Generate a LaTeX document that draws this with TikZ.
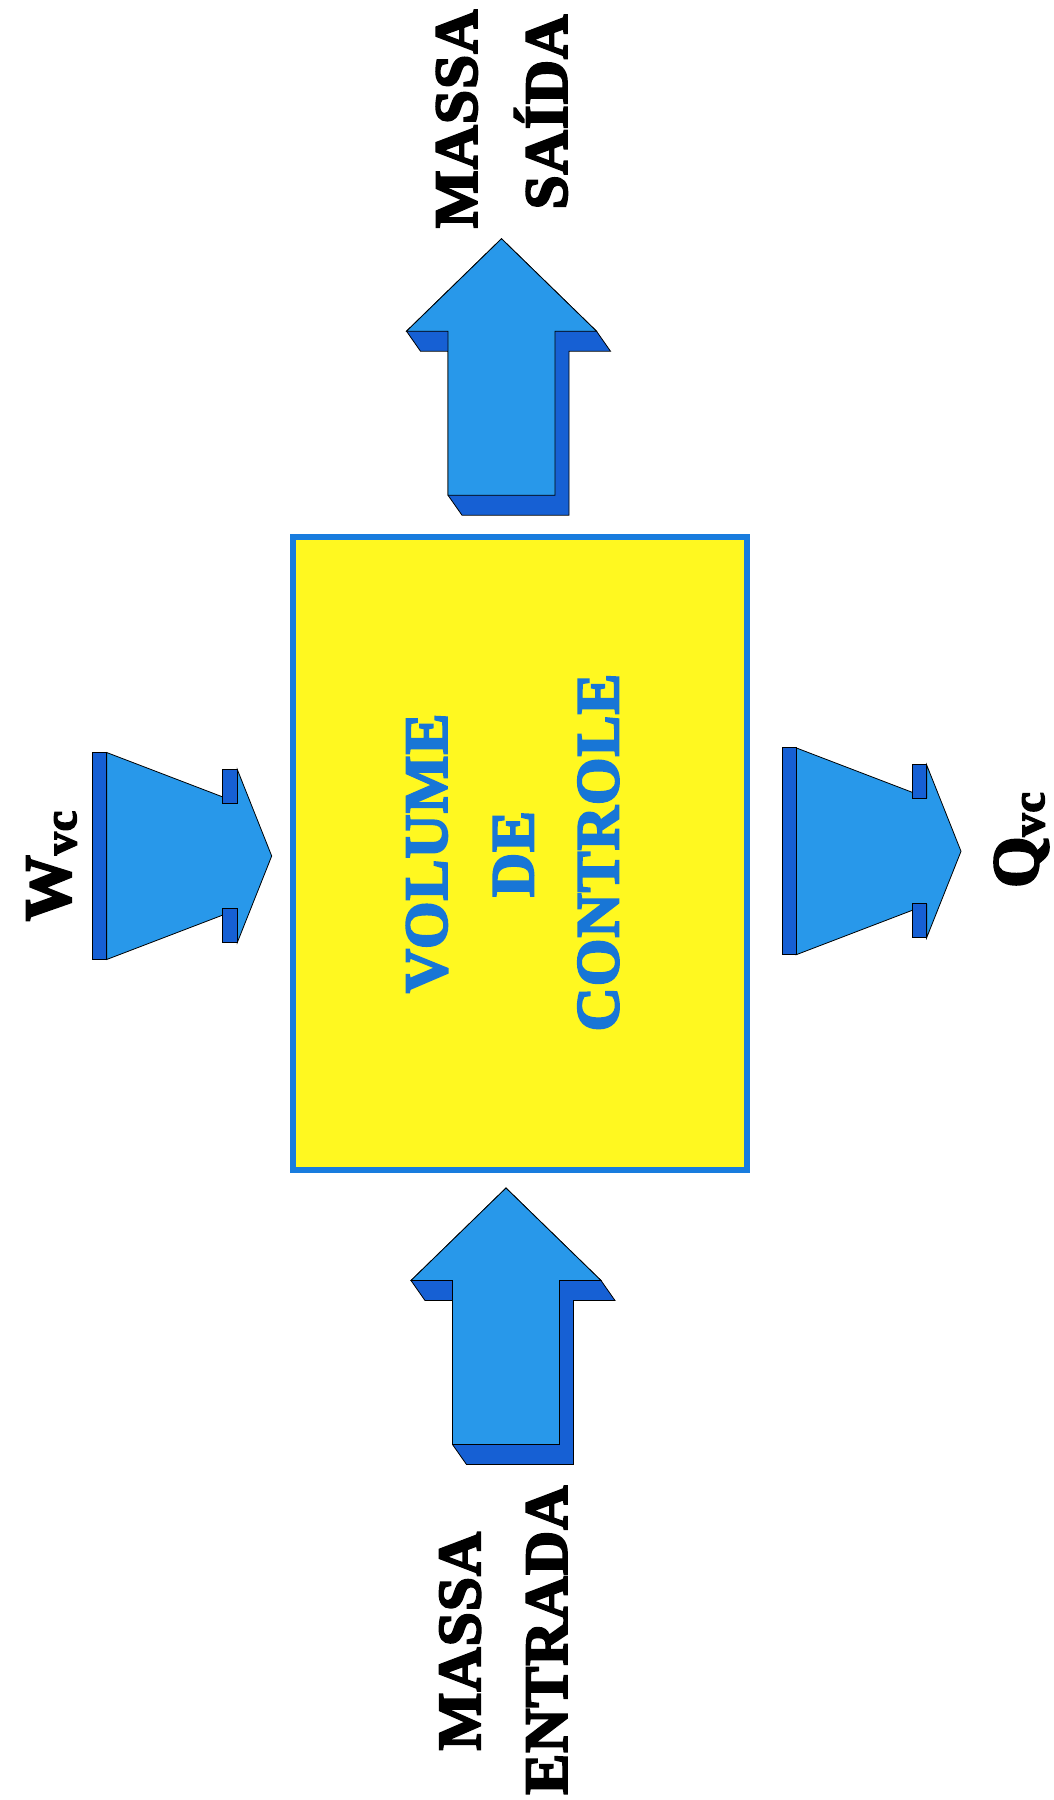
\documentclass[tikz,border=0pt]{standalone}
\usepackage{fontspec}
\setmainfont{Liberation Serif}[BoldFeatures={FakeBold=3.5,LetterSpace=2}]
\definecolor{arrowlight}{RGB}{40,152,234}
\definecolor{arrowdark}{RGB}{22,96,212}
\definecolor{boxyellow}{RGB}{255,248,32}
\definecolor{boxblue}{RGB}{24,124,222}
\definecolor{textblue}{RGB}{24,118,214}
\tikzset{
  front/.style={fill=arrowlight, draw=black, line width=0.8pt, line join=miter},
  side/.style={fill=arrowdark, draw=black, line width=0.8pt, line join=miter},
  lbl/.style={rotate=90, anchor=base, inner sep=0pt, font=\bfseries\fontsize{61}{61}\selectfont, text=black},
  boxlbl/.style={lbl, text=textblue},
  sublbl/.style={rotate=90, anchor=base, inner sep=0pt, font=\bfseries\fontsize{66}{66}\selectfont, text=black},
}
\newcommand\UpBlockArrow[2]{%
  \draw[side] (#1,#2) -- ({#1-95},{#2+92.5}) -- ({#1-81},{#2+112.5}) -- ({#1-53.5},{#2+112.5}) -- ({#1-53.5},{#2+256.5}) -- ({#1-39.5},{#2+276.5}) -- ({#1+67.5},{#2+276.5}) -- ({#1+67.5},{#2+112.5}) -- ({#1+109},{#2+112.5}) -- ({#1+95},{#2+92.5}) -- cycle;
  \draw[front] (#1,#2) -- ({#1-95},{#2+92.5}) -- ({#1-53.5},{#2+92.5}) -- ({#1-53.5},{#2+256.5}) -- ({#1+53.5},{#2+256.5}) -- ({#1+53.5},{#2+92.5}) -- ({#1+95},{#2+92.5}) -- cycle;
}
\newcommand\SideBlockArrow[2]{%
  \draw[front] (#1,{#2-103.5}) -- ({#1+130.6},{#2-53.5}) -- ({#1+130.6},{#2-86.5}) -- ({#1+165},#2) -- ({#1+130.6},{#2+86.5}) -- ({#1+130.6},{#2+53.5}) -- (#1,{#2+103.5}) -- cycle;
  \draw[side] ({#1-14},{#2-103.5}) rectangle (#1,{#2+103.5});
  \draw[side] ({#1+116},{#2-86.5}) rectangle ({#1+130.6},{#2-52.5});
  \draw[side] ({#1+116},{#2+52.5}) rectangle ({#1+130.6},{#2+86.5});
}
\begin{document}
\begin{tikzpicture}[x=1pt,y=-1pt]
\useasboundingbox (0,0) rectangle (1053,1800);
\fill[white] (0,0) rectangle (1053,1800);

% control volume
\node[draw=boxblue, line width=6pt, fill=boxyellow, minimum width=454pt, minimum height=633pt, inner sep=0pt, outer sep=0pt] (box) at (519.5,853.5) {};
\node[boxlbl] (vol) at (446.7,853.3) {VOLUME};
\node[boxlbl] (de) at (533.3,854) {DE};
\node[boxlbl] (ctl) at (618.3,852.5) {CONTROLE};

% mass arrows
\UpBlockArrow{501.5}{238.7}
\UpBlockArrow{506}{1188}

% work and heat arrows
\SideBlockArrow{106.7}{856}
\SideBlockArrow{796}{851.3}

% labels
\node[lbl] (ms1) at (476.7,118.8) {MASSA};
\node[lbl] (sai) at (566.7,112) {SAÍDA};
\node[lbl] (ms2) at (480,1641) {MASSA};
\node[lbl] (ent) at (566.7,1640) {ENTRADA};
\node[sublbl] (w) at (70,866) {W\raisebox{-6pt}{\fontsize{46}{46}\selectfont vc}};
\node[sublbl] (q) at (1038,840) {Q\raisebox{-6pt}{\fontsize{46}{46}\selectfont vc}};
\end{tikzpicture}
\end{document}
